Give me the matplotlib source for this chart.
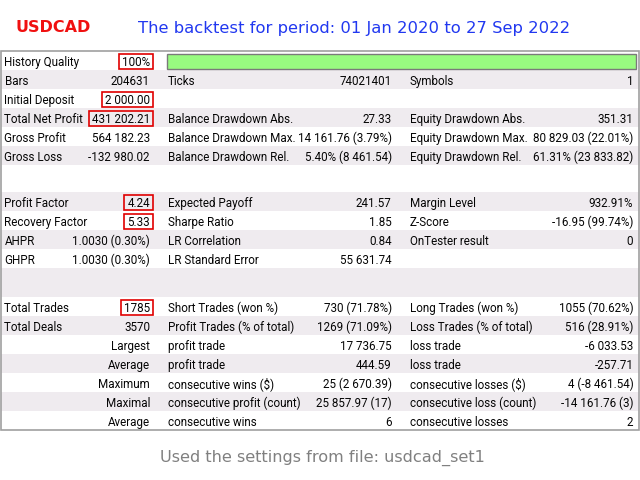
import matplotlib
matplotlib.use("Agg")
import matplotlib.pyplot as plt
from matplotlib.patches import Rectangle

plt.rcParams['font.family'] = ['DejaVu Sans']

# ---------------- data ----------------
symbol = "USDCAD"
period_title = "The backtest for period: 01 Jan 2020 to 27 Sep 2022"
footer = "Used the settings from file: usdcad_set1"
history_quality = 100  # percent

sec1_lab1 = ["History Quality", "Bars", "Initial Deposit", "Total Net Profit", "Gross Profit", "Gross Loss"]
sec1_val1 = ["100%", "204631", "2 000.00", "431 202.21", "564 182.23", "-132 980.02"]
sec1_lab2 = ["", "Ticks", "", "Balance Drawdown Abs.", "Balance Drawdown Max.", "Balance Drawdown Rel."]
sec1_val2 = ["", "74021401", "", "27.33", "14 161.76 (3.79%)", "5.40% (8 461.54)"]
sec1_lab3 = ["", "Symbols", "", "Equity Drawdown Abs.", "Equity Drawdown Max.", "Equity Drawdown Rel."]
sec1_val3 = ["", "1", "", "351.31", "80 829.03 (22.01%)", "61.31% (23 833.82)"]
sec1_boxed = [True, False, True, True, False, False]

sec2_lab1 = ["Profit Factor", "Recovery Factor", "AHPR", "GHPR"]
sec2_val1 = ["4.24", "5.33", "1.0030 (0.30%)", "1.0030 (0.30%)"]
sec2_lab2 = ["Expected Payoff", "Sharpe Ratio", "LR Correlation", "LR Standard Error"]
sec2_val2 = ["241.57", "1.85", "0.84", "55 631.74"]
sec2_lab3 = ["Margin Level", "Z-Score", "OnTester result", ""]
sec2_val3 = ["932.91%", "-16.95 (99.74%)", "0", ""]
sec2_boxed = [True, True, False, False]

sec3_lab1 = ["Total Trades", "Total Deals", "", "", "", "", ""]
sec3_val1 = ["1785", "3570", "Largest", "Average", "Maximum", "Maximal", "Average"]
sec3_lab2 = ["Short Trades (won %)", "Profit Trades (% of total)", "profit trade", "profit trade",
             "consecutive wins ($)", "consecutive profit (count)", "consecutive wins"]
sec3_val2 = ["730 (71.78%)", "1269 (71.09%)", "17 736.75", "444.59", "25 (2 670.39)", "25 857.97 (17)", "6"]
sec3_lab3 = ["Long Trades (won %)", "Loss Trades (% of total)", "loss trade", "loss trade",
             "consecutive losses ($)", "consecutive loss (count)", "consecutive losses"]
sec3_val3 = ["1055 (70.62%)", "516 (28.91%)", "-6 033.53", "-257.71", "4 (-8 461.54)", "-14 161.76 (3)", "2"]
sec3_boxed = [True, False, False, False, False, False, False]

# ---------------- layout ----------------
ROW_H = 19.0
GAP1_H = 27.0
GAP2_H = 29.0
TOP = 51.0
X_L1, X_V1, X_L2, X_V2, X_L3, X_V3 = 4.5, 150.0, 168.0, 391.7, 410.0, 633.3
GRAY = '#EFEBEF'
FS = 8.4
TFONT = ['Roboto', 'DejaVu Sans']
TCOL = '#050505'

fig = plt.figure(figsize=(6.4, 4.8), dpi=100)
ax = fig.add_axes([0, 0, 1, 1])
ax.set_xlim(0, 640)
ax.set_ylim(480, 0)
ax.axis('off')

rows = []
for i in range(len(sec1_lab1)):
    rows.append(('row', (sec1_lab1[i], sec1_val1[i], sec1_lab2[i], sec1_val2[i], sec1_lab3[i], sec1_val3[i], sec1_boxed[i])))
rows.append(('gap', GAP1_H))
for i in range(len(sec2_lab1)):
    rows.append(('row', (sec2_lab1[i], sec2_val1[i], sec2_lab2[i], sec2_val2[i], sec2_lab3[i], sec2_val3[i], sec2_boxed[i])))
rows.append(('gap', GAP2_H))
for i in range(len(sec3_lab1)):
    rows.append(('row', (sec3_lab1[i], sec3_val1[i], sec3_lab2[i], sec3_val2[i], sec3_lab3[i], sec3_val3[i], sec3_boxed[i])))

def put(x, yb, s, ha):
    return ax.text(x, yb, s, fontsize=FS, family=TFONT, ha=ha, va='baseline', color=TCOL, zorder=3)

y = TOP
stripe = 0
boxed_texts = []
for kind, data in rows:
    h = ROW_H if kind == 'row' else data
    if stripe % 2 == 1:
        ax.add_patch(Rectangle((1, y), 637.5, h, facecolor=GRAY, edgecolor='none', zorder=1))
    if kind == 'row':
        l1, v1, l2, v2, l3, v3, boxed = data
        base = y + 15.0
        put(X_L1, base, l1, 'left')
        t = put(X_V1, base, v1, 'right')
        if boxed:
            boxed_texts.append((t, y))
        put(X_L2, base, l2, 'left')
        put(X_V2, base, v2, 'right')
        put(X_L3, base, l3, 'left')
        put(X_V3, base, v3, 'right')
    y += h
    stripe += 1

# table border
ax.add_patch(Rectangle((1, TOP), 637.5, y - TOP, facecolor='none', edgecolor='#A0A0A0', linewidth=1.2, zorder=4))

# history quality bar
bar_x0, bar_x1 = 167.3, 635.8
ax.add_patch(Rectangle((bar_x0, TOP + 3), (bar_x1 - bar_x0) * history_quality / 100.0, 14.5,
                       facecolor='#98FB80', edgecolor='#7A7A7A', linewidth=1.0, zorder=3))

# red boxes around key values
fig.canvas.draw()
renderer = fig.canvas.get_renderer()
inv = ax.transData.inverted()
for t, ry in boxed_texts:
    bb = t.get_window_extent(renderer)
    (x0, _), (x1, _) = inv.transform([[bb.x0, bb.y0], [bb.x1, bb.y1]])
    left = min(x0, x1) - 3.0
    ax.add_patch(Rectangle((left, ry + 3), 152.7 - left, 14.5, facecolor='none',
                           edgecolor='#E00000', linewidth=1.2, zorder=5))

# titles
ax.text(15.5, 32.5, symbol, fontsize=11.5, fontweight='bold', color='#F01010', ha='left', va='baseline')
ax.text(138, 32.5, period_title, fontsize=11.8, color='#2138F0', ha='left', va='baseline')
ax.text(322.5, 461.5, footer, fontsize=11.6, color='#808080', ha='center', va='baseline')

fig.savefig('out.png', dpi=100)
